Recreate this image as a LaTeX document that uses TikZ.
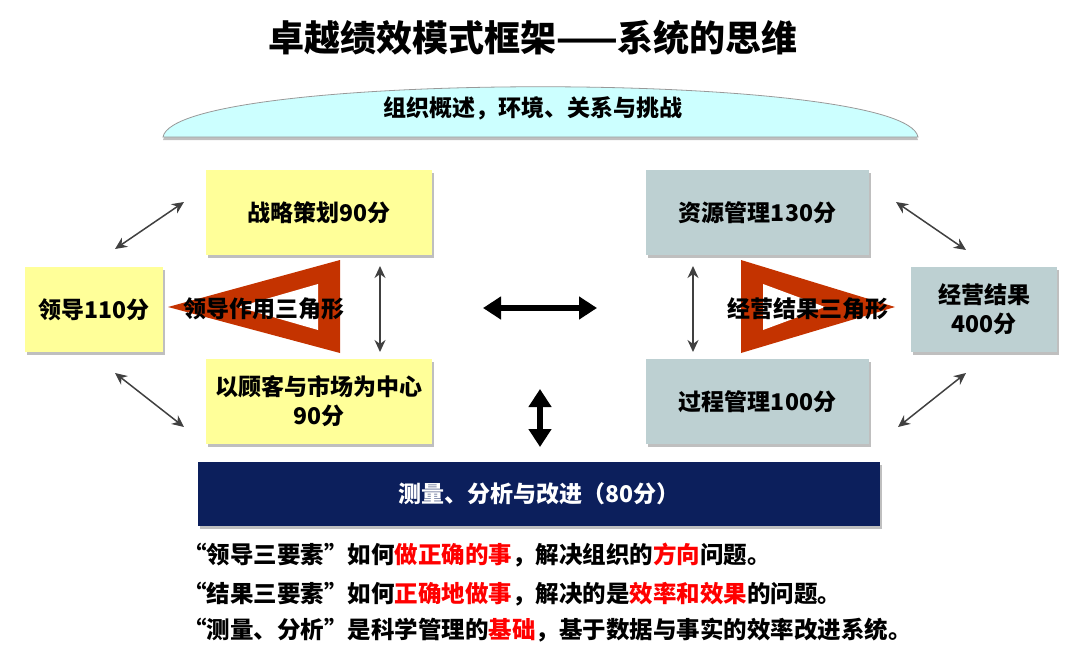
\documentclass[tikz,border=0pt]{standalone}
\usepackage{fontspec}
\setmainfont{Noto Sans CJK SC}[BoldFont={* Black}]
\usetikzlibrary{shadows,arrows.meta}
\definecolor{yel}{HTML}{FFFF99}
\definecolor{gry}{HTML}{BDD0D2}
\definecolor{navy}{HTML}{0C1F5C}
\definecolor{tri}{HTML}{C43300}
\definecolor{cy}{HTML}{CCFFFF}
\tikzset{
 bx/.style={draw=none,drop shadow={shadow xshift=2pt,shadow yshift=-3pt,opacity=.5},font=\bfseries\fontsize{23}{29}\selectfont,align=center},
 darr/.style={draw=black!75,line width=1.5pt,{Stealth[length=12pt,width=11pt]}-{Stealth[length=12pt,width=11pt]}},
 barr/.style={draw=black,line width=6pt,{Triangle[length=18pt,width=22pt]}-{Triangle[length=18pt,width=22pt]}},
 tx/.style={font=\bfseries\fontsize{23.5}{28}\selectfont,anchor=west,inner sep=0}
}
\begin{document}
\begin{tikzpicture}[x=1pt,y=-1pt]
\useasboundingbox (0,0) rectangle (1080,648);
\node (title) at (533,38) {\bfseries\fontsize{36}{40}\selectfont 卓越绩效模式框架——系统的思维};
\fill[cy,draw=black!40,line width=0.8pt,drop shadow={shadow xshift=0pt,shadow yshift=-3pt,opacity=.5}] (163,137) .. controls (175,70) and (906,70) .. (918,137) -- cycle;
\node (dome) at (533,108) {\bfseries\fontsize{23}{28}\selectfont 组织概述，环境、关系与挑战};
% triangles
\fill[tri] (168,307) -- (340,260) -- (340,353) -- cycle;
\fill[white] (238,307) -- (318,284) -- (318,330) -- cycle;
\fill[tri] (895,307) -- (741,260) -- (741,353) -- cycle;
\fill[white] (825,307) -- (763,284) -- (763,330) -- cycle;
\node[bx,fill=yel,minimum width=226pt,minimum height=85pt] (zl) at (319,212.5) {战略策划90分};
\node[bx,fill=yel,minimum width=138pt,minimum height=85pt] (ld) at (94,309.5) {领导110分};
\node[bx,fill=yel,minimum width=226pt,minimum height=85pt] (gk) at (319,401.5) {以顾客与市场为中心\\90分};
\node[bx,fill=gry,minimum width=223pt,minimum height=85pt] (zy) at (757.5,212.5) {资源管理130分};
\node[bx,fill=gry,minimum width=223pt,minimum height=85pt] (gc) at (757.5,401.5) {过程管理100分};
\node[bx,fill=gry,minimum width=146pt,minimum height=85pt] (jy) at (984,309.5) {经营结果\\400分};
\node[bx,fill=navy,text=white,minimum width=682pt,minimum height=64pt] (cl) at (539,494) {测量、分析与改进（80分）};
\node[font=\bfseries\fontsize{23}{28}\selectfont] (t1) at (264,309) {领导作用三角形};
\node[font=\bfseries\fontsize{23}{28}\selectfont] (t2) at (808,309) {经营结果三角形};
% arrows
\coordinate (a1) at (115,249); \coordinate (a2) at (184,202);
\coordinate (b1) at (115,373); \coordinate (b2) at (184,427);
\coordinate (c1) at (380,266); \coordinate (c2) at (380,352);
\coordinate (d1) at (693,266); \coordinate (d2) at (693,352);
\coordinate (e1) at (896,202); \coordinate (e2) at (966,250);
\coordinate (f1) at (898,427); \coordinate (f2) at (966,373);
\foreach \p/\q in {a1/a2,b1/b2,c1/c2,d1/d2,e1/e2,f1/f2} \draw[darr] (\p) -- (\q);
\coordinate (h1) at (483,308); \coordinate (h2) at (597,308);
\coordinate (v1) at (540,389); \coordinate (v2) at (540,447);
\draw[barr] (h1) -- (h2);
\draw[barr] (v1) -- (v2);
\node[tx] (l1) at (183,555) {“领导三要素”如何\textcolor{red}{做正确的事}，解决组织的\textcolor{red}{方向}问题。};
\node[tx] (l2) at (183,594) {“结果三要素”如何\textcolor{red}{正确地做事}，解决的是\textcolor{red}{效率和效果}的问题。};
\node[tx] (l3) at (183,630) {“测量、分析”是科学管理的\textcolor{red}{基础}，基于数据与事实的效率改进系统。};
\end{tikzpicture}
\end{document}
